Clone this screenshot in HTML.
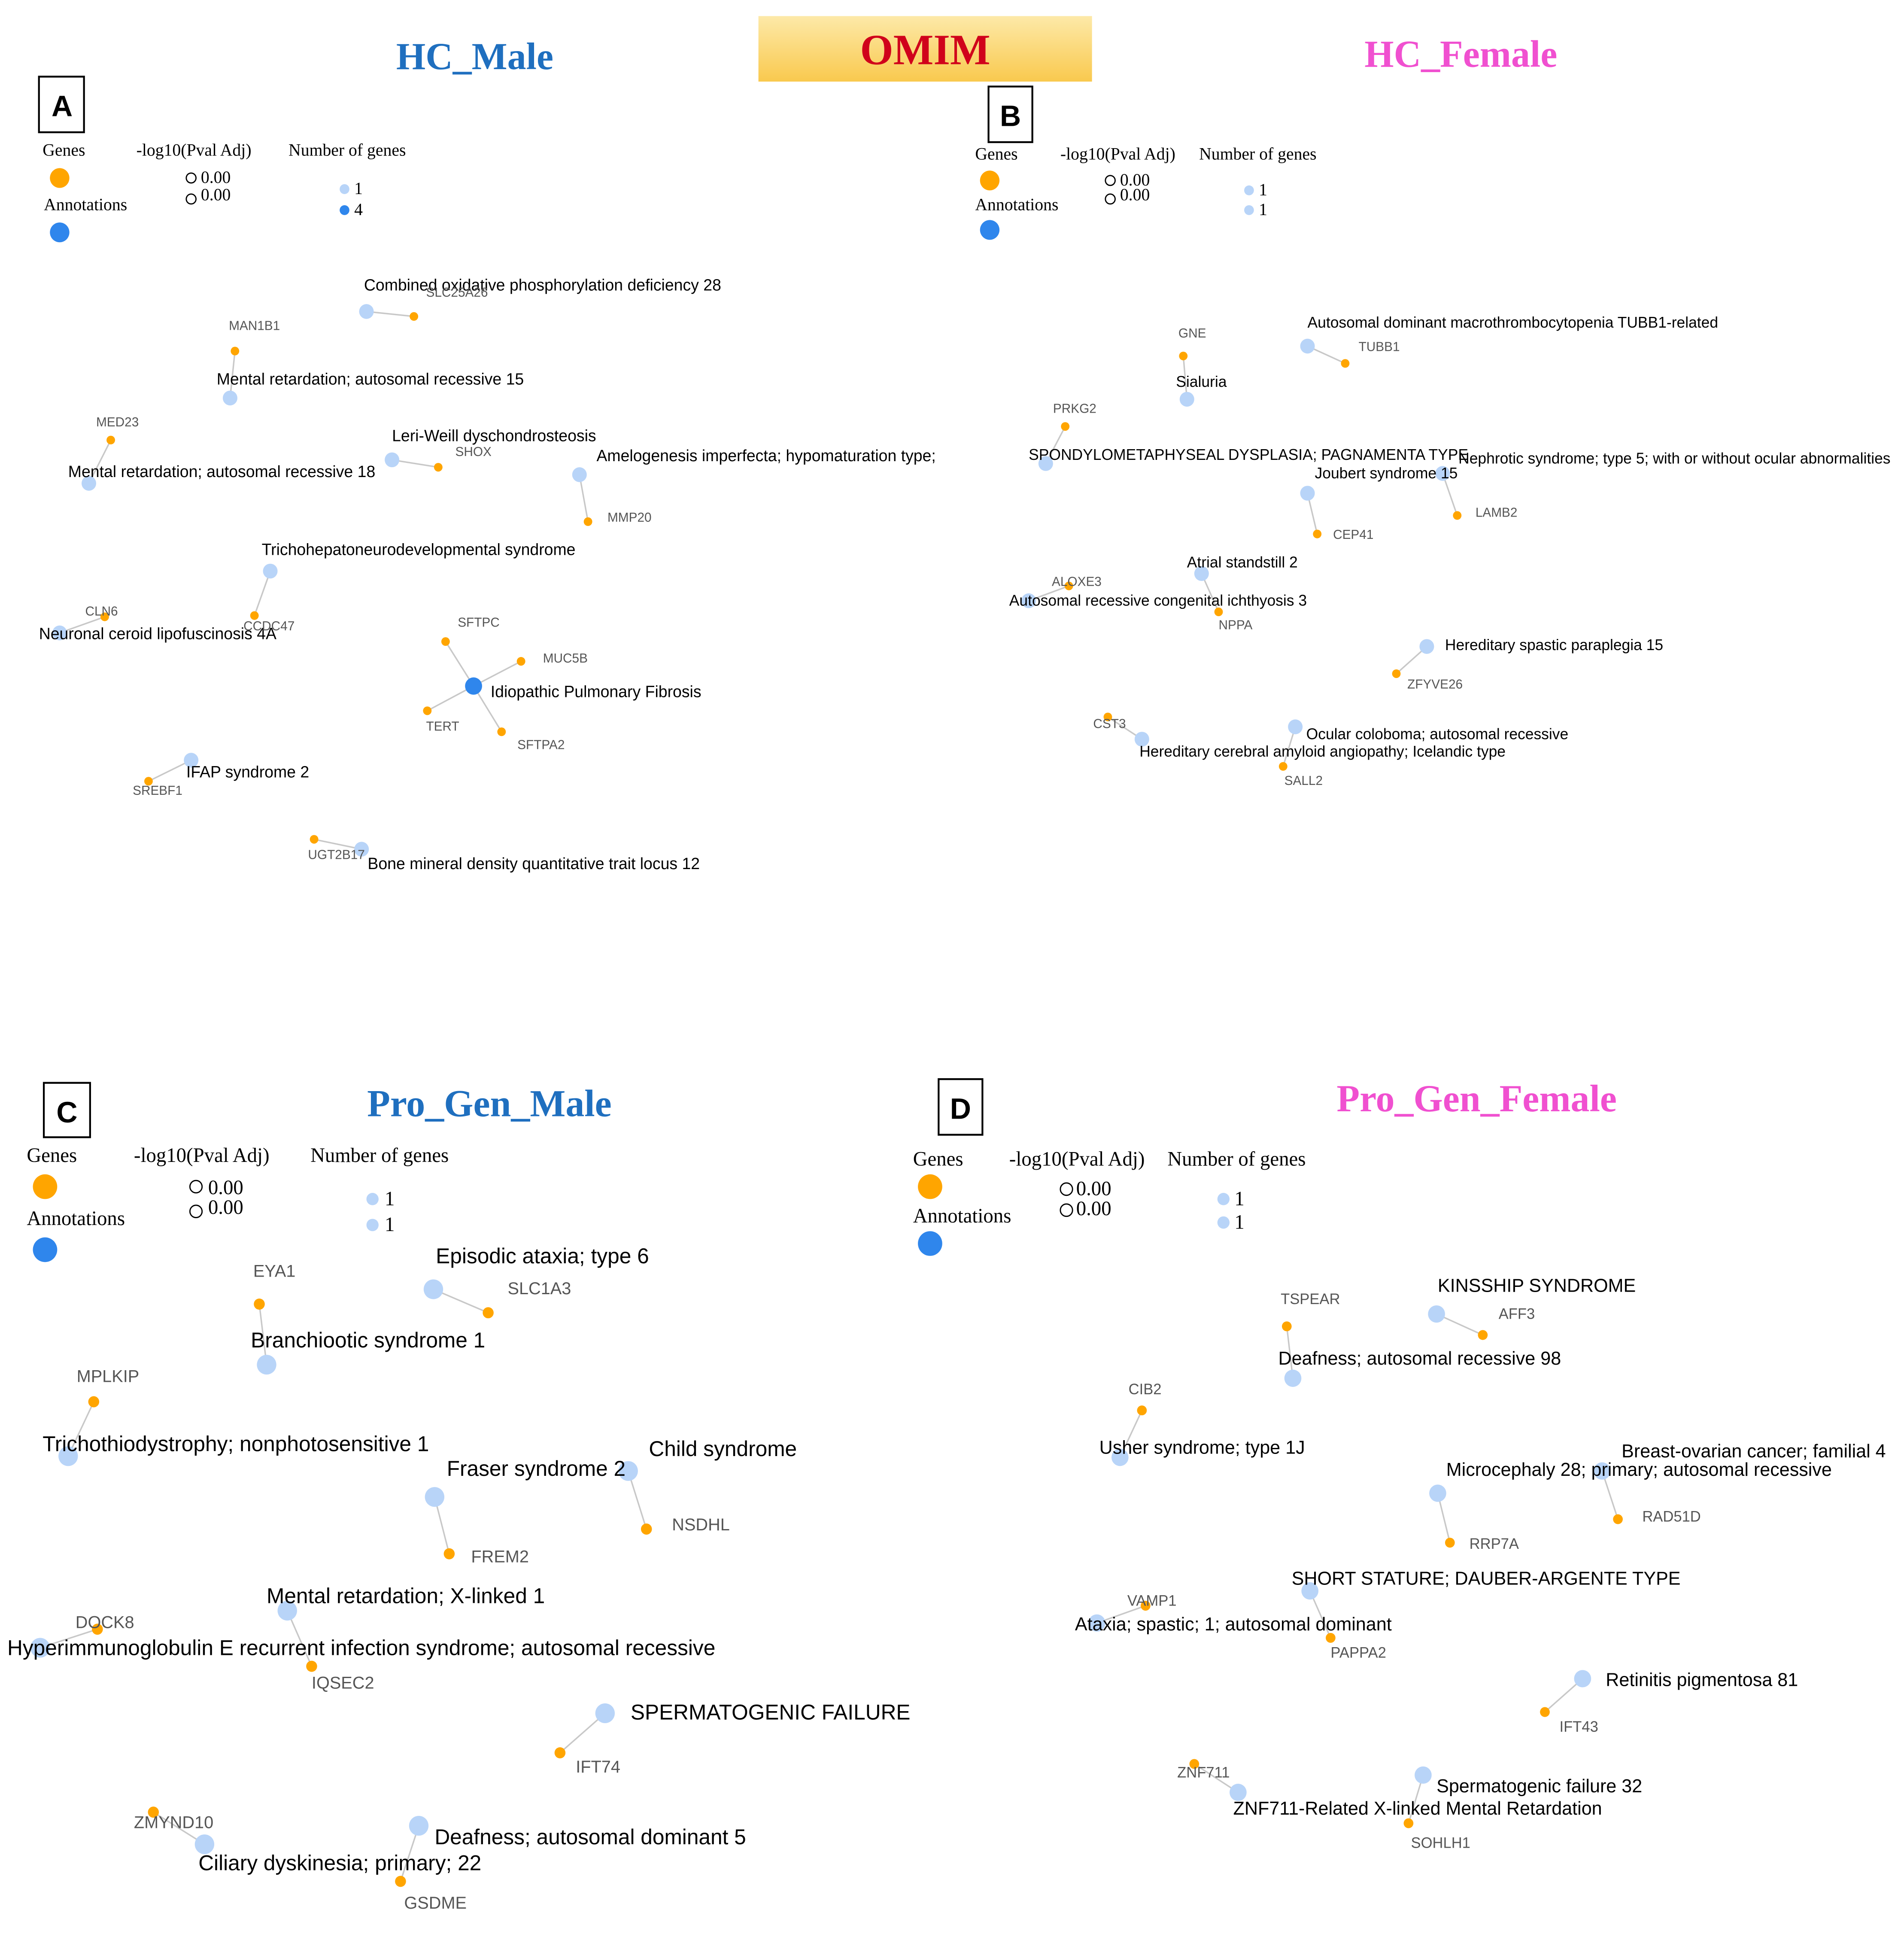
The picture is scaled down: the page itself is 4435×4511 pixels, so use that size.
<!DOCTYPE html>
<html><head><meta charset="utf-8"><style>html,body{margin:0;padding:0;background:#fff}svg{display:block}</style></head>
<body>
<svg width="4435" height="4511" viewBox="0 0 1564 1567" preserveAspectRatio="none" xmlns="http://www.w3.org/2000/svg">
<defs><linearGradient id="g" x1="0" y1="0" x2="0" y2="1"><stop offset="0" stop-color="#fde9a8"/><stop offset="1" stop-color="#f9c94e"/></linearGradient></defs>
<rect width="1564" height="1567" fill="#fff"/>
<rect x="623" y="13" width="274" height="53" fill="url(#g)"/>
<g font-family="Liberation Serif, serif" font-weight="bold" text-anchor="middle">
<text x="760" y="52" font-size="35" fill="#d0021b">OMIM</text>
<text x="390" y="56" font-size="31" fill="#1f6fbf">HC_Male</text>
<text x="1200" y="54" font-size="31" fill="#f050d0">HC_Female</text>
<text x="402" y="903" font-size="31" fill="#1f6fbf">Pro_Gen_Male</text>
<text x="1213" y="899" font-size="31" fill="#f050d0">Pro_Gen_Female</text>
</g>
<g fill="none" stroke="#000" stroke-width="1.5">
<rect x="32" y="62" width="37" height="45"/><rect x="812" y="70" width="36" height="45"/>
<rect x="36" y="876" width="38" height="44"/><rect x="771" y="873" width="36" height="45"/>
</g>
<g font-family="Liberation Sans, sans-serif" font-size="24" font-weight="bold" text-anchor="middle" fill="#000">
<text x="51" y="94">A</text><text x="830" y="102">B</text><text x="55" y="908">C</text><text x="789" y="905">D</text>
</g>
<g font-family="Liberation Serif, serif" font-size="14" fill="#000">
<text x="35" y="126">Genes</text><text x="36" y="170">Annotations</text><text x="112" y="126">-log10(Pval Adj)</text><text x="237" y="126">Number of genes</text>
<text x="165" y="148">0.00</text><text x="165" y="162">0.00</text><text x="291" y="157">1</text><text x="291" y="174">4</text>
<text x="801" y="129">Genes</text><text x="801" y="170">Annotations</text><text x="871" y="129">-log10(Pval Adj)</text><text x="985" y="129">Number of genes</text>
<text x="920" y="150">0.00</text><text x="920" y="162">0.00</text><text x="1034" y="158">1</text><text x="1034" y="174">1</text>
</g>
<g font-family="Liberation Serif, serif" font-size="16.5" fill="#000">
<text x="22" y="940">Genes</text><text x="22" y="991">Annotations</text><text x="110" y="940">-log10(Pval Adj)</text><text x="255" y="940">Number of genes</text>
<text x="171" y="966">0.00</text><text x="171" y="982">0.00</text><text x="316" y="975">1</text><text x="316" y="996">1</text>
<text x="750" y="943">Genes</text><text x="750" y="989">Annotations</text><text x="829" y="943">-log10(Pval Adj)</text><text x="959" y="943">Number of genes</text>
<text x="884" y="967">0.00</text><text x="884" y="983">0.00</text><text x="1014" y="975">1</text><text x="1014" y="994">1</text>
</g>
<g fill="none" stroke="#000" stroke-width="1">
<circle cx="157" cy="144" r="4"/><circle cx="157" cy="161" r="4"/><circle cx="912" cy="146" r="4"/><circle cx="912" cy="161" r="4"/>
<circle cx="161" cy="960" r="5"/><circle cx="161" cy="980" r="5"/><circle cx="876" cy="962" r="5"/><circle cx="876" cy="979" r="5"/>
</g>
<g>
<circle cx="49" cy="144" r="8" fill="#ffa500"/><circle cx="49" cy="188" r="8" fill="#2f86ec"/>
<circle cx="283" cy="153" r="4" fill="#b8d4f8"/><circle cx="283" cy="170" r="4" fill="#2f86ec"/>
<circle cx="813" cy="146" r="8" fill="#ffa500"/><circle cx="813" cy="186" r="8" fill="#2f86ec"/>
<circle cx="1026" cy="154" r="4" fill="#b8d4f8"/><circle cx="1026" cy="170" r="4" fill="#b8d4f8"/>
<circle cx="37" cy="960" r="10" fill="#ffa500"/><circle cx="37" cy="1011" r="10" fill="#2f86ec"/>
<circle cx="306" cy="970" r="5" fill="#b8d4f8"/><circle cx="306" cy="991" r="5" fill="#b8d4f8"/>
<circle cx="764" cy="960" r="10" fill="#ffa500"/><circle cx="764" cy="1006" r="10" fill="#2f86ec"/>
<circle cx="1005" cy="970" r="5" fill="#b8d4f8"/><circle cx="1005" cy="989" r="5" fill="#b8d4f8"/>
</g>
<g stroke="#c8c8c8" stroke-width="1.2">
<line x1="301" y1="252" x2="340" y2="256"/><line x1="193" y1="284" x2="189" y2="322"/><line x1="91" y1="356" x2="73" y2="391"/>
<line x1="322" y1="372" x2="360" y2="378"/><line x1="476" y1="384" x2="483" y2="422"/><line x1="222" y1="462" x2="209" y2="498"/>
<line x1="86" y1="499" x2="49" y2="512"/><line x1="389" y1="555" x2="366" y2="519"/><line x1="389" y1="555" x2="428" y2="535"/>
<line x1="389" y1="555" x2="351" y2="575"/><line x1="389" y1="555" x2="412" y2="592"/><line x1="157" y1="615" x2="122" y2="632"/>
<line x1="258" y1="679" x2="297" y2="687"/>
<line x1="972" y1="288" x2="975" y2="323"/><line x1="1074" y1="280" x2="1105" y2="294"/><line x1="875" y1="345" x2="859" y2="375"/>
<line x1="1185" y1="383" x2="1197" y2="417"/><line x1="1074" y1="399" x2="1082" y2="432"/><line x1="987" y1="464" x2="1001" y2="495"/>
<line x1="878" y1="474" x2="845" y2="486"/><line x1="1172" y1="523" x2="1147" y2="545"/><line x1="910" y1="580" x2="938" y2="598"/>
<line x1="1064" y1="588" x2="1054" y2="620"/>
<line x1="356" y1="1043" x2="401" y2="1062"/><line x1="213" y1="1055" x2="219" y2="1104"/><line x1="77" y1="1134" x2="56" y2="1178"/>
<line x1="516" y1="1190" x2="531" y2="1237"/><line x1="357" y1="1211" x2="369" y2="1257"/><line x1="236" y1="1303" x2="256" y2="1348"/>
<line x1="80" y1="1318" x2="33" y2="1333"/><line x1="497" y1="1386" x2="460" y2="1418"/><line x1="126" y1="1466" x2="168" y2="1492"/>
<line x1="344" y1="1477" x2="329" y2="1522"/>
<line x1="1057" y1="1073" x2="1062" y2="1115"/><line x1="1180" y1="1063" x2="1218" y2="1080"/><line x1="938" y1="1141" x2="920" y2="1179"/>
<line x1="1316" y1="1190" x2="1329" y2="1229"/><line x1="1181" y1="1208" x2="1191" y2="1248"/><line x1="1076" y1="1287" x2="1093" y2="1325"/>
<line x1="941" y1="1299" x2="901" y2="1313"/><line x1="1300" y1="1358" x2="1269" y2="1385"/><line x1="981" y1="1427" x2="1017" y2="1450"/>
<line x1="1169" y1="1436" x2="1157" y2="1475"/>
</g>
<g fill="#b8d4f8">
<circle cx="301" cy="252" r="6"/><circle cx="189" cy="322" r="6"/><circle cx="73" cy="391" r="6"/><circle cx="322" cy="372" r="6"/>
<circle cx="476" cy="384" r="6"/><circle cx="222" cy="462" r="6"/><circle cx="49" cy="512" r="6"/><circle cx="157" cy="615" r="6"/><circle cx="297" cy="687" r="6"/>
<circle cx="975" cy="323" r="6"/><circle cx="1074" cy="280" r="6"/><circle cx="859" cy="375" r="6"/><circle cx="1185" cy="383" r="6"/>
<circle cx="1074" cy="399" r="6"/><circle cx="987" cy="464" r="6"/><circle cx="845" cy="486" r="6"/><circle cx="1172" cy="523" r="6"/>
<circle cx="938" cy="598" r="6"/><circle cx="1064" cy="588" r="6"/>
<circle cx="356" cy="1043" r="8"/><circle cx="219" cy="1104" r="8"/><circle cx="56" cy="1178" r="8"/><circle cx="516" cy="1190" r="8"/>
<circle cx="357" cy="1211" r="8"/><circle cx="236" cy="1303" r="8"/><circle cx="33" cy="1333" r="8"/><circle cx="497" cy="1386" r="8"/>
<circle cx="168" cy="1492" r="8"/><circle cx="344" cy="1477" r="8"/>
<circle cx="1062" cy="1115" r="7"/><circle cx="1180" cy="1063" r="7"/><circle cx="920" cy="1179" r="7"/><circle cx="1316" cy="1190" r="7"/>
<circle cx="1181" cy="1208" r="7"/><circle cx="1076" cy="1287" r="7"/><circle cx="901" cy="1313" r="7"/><circle cx="1300" cy="1358" r="7"/>
<circle cx="1017" cy="1450" r="7"/><circle cx="1169" cy="1436" r="7"/>
</g>
<circle cx="389" cy="555" r="7" fill="#2f86ec"/>
<g fill="#ffa500">
<circle cx="340" cy="256" r="3.5"/><circle cx="193" cy="284" r="3.5"/><circle cx="91" cy="356" r="3.5"/><circle cx="360" cy="378" r="3.5"/>
<circle cx="483" cy="422" r="3.5"/><circle cx="209" cy="498" r="3.5"/><circle cx="86" cy="499" r="3.5"/><circle cx="366" cy="519" r="3.5"/>
<circle cx="428" cy="535" r="3.5"/><circle cx="351" cy="575" r="3.5"/><circle cx="412" cy="592" r="3.5"/><circle cx="122" cy="632" r="3.5"/><circle cx="258" cy="679" r="3.5"/>
<circle cx="972" cy="288" r="3.5"/><circle cx="1105" cy="294" r="3.5"/><circle cx="875" cy="345" r="3.5"/><circle cx="1197" cy="417" r="3.5"/>
<circle cx="1082" cy="432" r="3.5"/><circle cx="1001" cy="495" r="3.5"/><circle cx="878" cy="474" r="3.5"/><circle cx="1147" cy="545" r="3.5"/>
<circle cx="910" cy="580" r="3.5"/><circle cx="1054" cy="620" r="3.5"/>
<circle cx="401" cy="1062" r="4.5"/><circle cx="213" cy="1055" r="4.5"/><circle cx="77" cy="1134" r="4.5"/><circle cx="531" cy="1237" r="4.5"/>
<circle cx="369" cy="1257" r="4.5"/><circle cx="256" cy="1348" r="4.5"/><circle cx="80" cy="1318" r="4.5"/><circle cx="460" cy="1418" r="4.5"/>
<circle cx="126" cy="1466" r="4.5"/><circle cx="329" cy="1522" r="4.5"/>
<circle cx="1057" cy="1073" r="4"/><circle cx="1218" cy="1080" r="4"/><circle cx="938" cy="1141" r="4"/><circle cx="1329" cy="1229" r="4"/>
<circle cx="1191" cy="1248" r="4"/><circle cx="1093" cy="1325" r="4"/><circle cx="941" cy="1299" r="4"/><circle cx="1269" cy="1385" r="4"/>
<circle cx="981" cy="1427" r="4"/><circle cx="1157" cy="1475" r="4"/>
</g>
<g font-family="Liberation Sans, sans-serif" font-size="13.2" fill="#000">
<text x="299" y="235">Combined oxidative phosphorylation deficiency 28</text>
<text x="178" y="311">Mental retardation; autosomal recessive 15</text>
<text x="56" y="386">Mental retardation; autosomal recessive 18</text>
<text x="322" y="357">Leri-Weill dyschondrosteosis</text>
<text x="490" y="373">Amelogenesis imperfecta; hypomaturation type;</text>
<text x="215" y="449">Trichohepatoneurodevelopmental syndrome</text>
<text x="32" y="517">Neuronal ceroid lipofuscinosis 4A</text>
<text x="403" y="564">Idiopathic Pulmonary Fibrosis</text>
<text x="153" y="629">IFAP syndrome 2</text>
<text x="302" y="703">Bone mineral density quantitative trait locus 12</text>
</g>
<g font-family="Liberation Sans, sans-serif" font-size="12.5" fill="#000">
<text x="966" y="313">Sialuria</text>
<text x="1074" y="265">Autosomal dominant macrothrombocytopenia TUBB1-related</text>
<text x="845" y="372">SPONDYLOMETAPHYSEAL DYSPLASIA; PAGNAMENTA TYPE</text>
<text x="1198" y="375">Nephrotic syndrome; type 5; with or without ocular abnormalities</text>
<text x="1080" y="387">Joubert syndrome 15</text>
<text x="975" y="459">Atrial standstill 2</text>
<text x="829" y="490">Autosomal recessive congenital ichthyosis 3</text>
<text x="1187" y="526">Hereditary spastic paraplegia 15</text>
<text x="936" y="612">Hereditary cerebral amyloid angiopathy; Icelandic type</text>
<text x="1073" y="598">Ocular coloboma; autosomal recessive</text>
</g>
<g font-family="Liberation Sans, sans-serif" font-size="17.5" fill="#000">
<text x="358" y="1022">Episodic ataxia; type 6</text>
<text x="206" y="1090">Branchiootic syndrome 1</text>
<text x="35" y="1174">Trichothiodystrophy; nonphotosensitive 1</text>
<text x="533" y="1178">Child syndrome</text>
<text x="367" y="1194">Fraser syndrome 2</text>
<text x="219" y="1297">Mental retardation; X-linked 1</text>
<text x="6" y="1339">Hyperimmunoglobulin E recurrent infection syndrome; autosomal recessive</text>
<text x="518" y="1391">SPERMATOGENIC FAILURE</text>
<text x="163" y="1513">Ciliary dyskinesia; primary; 22</text>
<text x="357" y="1492">Deafness; autosomal dominant 5</text>
</g>
<g font-family="Liberation Sans, sans-serif" font-size="15.2" fill="#000">
<text x="1050" y="1104">Deafness; autosomal recessive 98</text>
<text x="1181" y="1045">KINSSHIP SYNDROME</text>
<text x="903" y="1176">Usher syndrome; type 1J</text>
<text x="1332" y="1179">Breast-ovarian cancer; familial 4</text>
<text x="1188" y="1194">Microcephaly 28; primary; autosomal recessive</text>
<text x="1061" y="1282">SHORT STATURE; DAUBER-ARGENTE TYPE</text>
<text x="883" y="1319">Ataxia; spastic; 1; autosomal dominant</text>
<text x="1319" y="1364">Retinitis pigmentosa 81</text>
<text x="1013" y="1468">ZNF711-Related X-linked Mental Retardation</text>
<text x="1180" y="1450">Spermatogenic failure 32</text>
</g>
<g font-family="Liberation Sans, sans-serif" font-size="10.5" fill="#555">
<text x="350" y="240">SLC25A26</text><text x="188" y="267">MAN1B1</text><text x="79" y="345">MED23</text><text x="374" y="369">SHOX</text>
<text x="499" y="422">MMP20</text><text x="200" y="510">CCDC47</text><text x="70" y="498">CLN6</text><text x="376" y="507">SFTPC</text>
<text x="446" y="536">MUC5B</text><text x="350" y="591">TERT</text><text x="425" y="606">SFTPA2</text><text x="109" y="643">SREBF1</text><text x="253" y="695">UGT2B17</text>
<text x="968" y="273">GNE</text><text x="1116" y="284">TUBB1</text><text x="865" y="334">PRKG2</text><text x="1212" y="418">LAMB2</text>
<text x="1095" y="436">CEP41</text><text x="1001" y="509">NPPA</text><text x="864" y="474">ALOXE3</text><text x="1156" y="557">ZFYVE26</text>
<text x="898" y="589">CST3</text><text x="1055" y="635">SALL2</text>
</g>
<g font-family="Liberation Sans, sans-serif" font-size="14" fill="#555">
<text x="417" y="1047">SLC1A3</text><text x="208" y="1033">EYA1</text><text x="63" y="1118">MPLKIP</text><text x="552" y="1238">NSDHL</text>
<text x="387" y="1264">FREM2</text><text x="256" y="1366">IQSEC2</text><text x="62" y="1317">DOCK8</text><text x="473" y="1434">IFT74</text>
<text x="110" y="1479">ZMYND10</text><text x="332" y="1544">GSDME</text>
</g>
<g font-family="Liberation Sans, sans-serif" font-size="12.2" fill="#555">
<text x="1052" y="1055">TSPEAR</text><text x="1231" y="1067">AFF3</text><text x="927" y="1128">CIB2</text><text x="1349" y="1231">RAD51D</text>
<text x="1207" y="1253">RRP7A</text><text x="1093" y="1341">PAPPA2</text><text x="926" y="1299">VAMP1</text><text x="1281" y="1401">IFT43</text>
<text x="967" y="1438">ZNF711</text><text x="1159" y="1495">SOHLH1</text>
</g>
</svg>
</body></html>
